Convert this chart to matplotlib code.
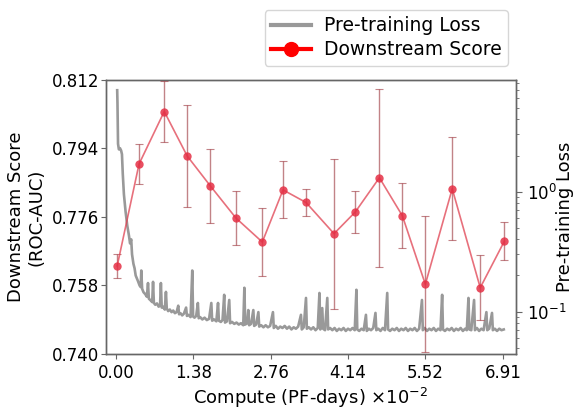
import matplotlib
matplotlib.use("Agg")
import matplotlib.pyplot as plt
from matplotlib.lines import Line2D
from matplotlib.ticker import LogLocator

# ---- Downstream score data ----
score_compute = [0.02, 0.41, 0.86, 1.27, 1.68, 2.14, 2.61, 2.98, 3.39, 3.89,
                 4.27, 4.70, 5.11, 5.52, 6.00, 6.50, 6.93]
score_values = [0.7631, 0.7899, 0.8037, 0.7920, 0.7842, 0.7757, 0.7694, 0.7831,
                0.7798, 0.7716, 0.7773, 0.7863, 0.7763, 0.7583, 0.7834, 0.7574, 0.7696]
score_errors = [0.0032, 0.0053, 0.0079, 0.0134, 0.0097, 0.0070, 0.0089, 0.0075,
                0.0035, 0.0197, 0.0055, 0.0234, 0.0085, 0.0179, 0.0135, 0.0085, 0.0050]

# ---- Pre-training loss curve ----
loss_compute = [
    0.02, 0.025, 0.035, 0.05, 0.07, 0.09, 0.105, 0.12, 0.14, 0.17, 0.20, 0.23, 0.25, 0.27, 0.285,
    0.31, 0.33, 0.35, 0.37, 0.39, 0.42, 0.44, 0.45, 0.465, 0.49, 0.52, 0.55, 0.57, 0.585,
    0.61, 0.645, 0.66, 0.675, 0.70, 0.73, 0.76, 0.785, 0.80, 0.815, 0.84, 0.87, 0.89, 0.905,
    0.93, 0.96, 0.99, 1.02, 1.05, 1.08, 1.11, 1.125, 1.15, 1.18, 1.21, 1.25, 1.265, 1.29,
    1.33, 1.36, 1.375, 1.40, 1.43, 1.46, 1.475, 1.50, 1.54, 1.58, 1.62, 1.66, 1.70, 1.715,
    1.75, 1.79, 1.82, 1.835, 1.87, 1.90, 1.93, 1.945, 1.98, 2.02, 2.035, 2.07, 2.11, 2.15,
    2.19, 2.23, 2.27, 2.29, 2.305, 2.34, 2.36, 2.375, 2.41, 2.45, 2.465, 2.50, 2.54, 2.555,
    2.59, 2.63, 2.67, 2.71, 2.75, 2.80, 2.815, 2.85, 2.89, 2.93, 2.97, 3.01, 3.05, 3.09,
    3.13, 3.17, 3.21, 3.25, 3.30, 3.315, 3.35, 3.39, 3.405, 3.44, 3.48, 3.52, 3.56, 3.60,
    3.63, 3.645, 3.68, 3.695, 3.73, 3.77, 3.785, 3.82, 3.86, 3.90, 3.94, 3.98, 4.02, 4.06,
    4.10, 4.14, 4.18, 4.22, 4.26, 4.29, 4.305, 4.34, 4.38, 4.42, 4.46, 4.475, 4.51, 4.55,
    4.59, 4.63, 4.645, 4.68, 4.72, 4.76, 4.80, 4.84, 4.855, 4.89, 4.93, 4.97, 5.01, 5.05,
    5.09, 5.13, 5.17, 5.21, 5.25, 5.29, 5.33, 5.37, 5.41, 5.46, 5.475, 5.51, 5.55, 5.59,
    5.63, 5.67, 5.71, 5.75, 5.79, 5.82, 5.835, 5.87, 5.91, 5.95, 5.99, 6.03, 6.07, 6.11,
    6.15, 6.19, 6.23, 6.26, 6.29, 6.305, 6.34, 6.39, 6.405, 6.44, 6.48, 6.52, 6.56, 6.61,
    6.625, 6.66, 6.71, 6.725, 6.76, 6.80, 6.84, 6.88, 6.92]
loss_values = [
    7.0, 5.5, 2.5, 2.25, 2.3, 2.2, 2.05, 1.4, 0.95, 0.68, 0.52, 0.43, 0.37, 0.40, 0.30,
    0.25, 0.23, 0.20, 0.19, 0.18, 0.165, 0.16, 0.22, 0.155, 0.145, 0.14, 0.133, 0.173, 0.128,
    0.125, 0.12, 0.177, 0.118, 0.114, 0.117, 0.11, 0.112, 0.173, 0.108, 0.11, 0.104, 0.146, 0.106,
    0.101, 0.104, 0.099, 0.102, 0.097, 0.099, 0.112, 0.095, 0.097, 0.093, 0.096, 0.108, 0.092, 0.094,
    0.09, 0.22, 0.091, 0.089, 0.092, 0.118, 0.088, 0.09, 0.086, 0.089, 0.085, 0.087, 0.118, 0.084,
    0.086, 0.083, 0.118, 0.084, 0.082, 0.085, 0.138, 0.081, 0.083, 0.125, 0.08, 0.082, 0.079, 0.081,
    0.078, 0.08, 0.077, 0.158, 0.078, 0.08, 0.103, 0.077, 0.079, 0.103, 0.076, 0.078, 0.099, 0.075,
    0.077, 0.074, 0.077, 0.074, 0.076, 0.099, 0.073, 0.076, 0.072, 0.075, 0.073, 0.076, 0.072, 0.075,
    0.071, 0.074, 0.072, 0.075, 0.094, 0.071, 0.074, 0.130, 0.072, 0.074, 0.071, 0.074, 0.07, 0.073,
    0.143, 0.071, 0.107, 0.072, 0.07, 0.130, 0.071, 0.073, 0.07, 0.073, 0.069, 0.072, 0.07, 0.073,
    0.069, 0.072, 0.07, 0.073, 0.07, 0.152, 0.071, 0.069, 0.072, 0.07, 0.094, 0.069, 0.072, 0.07,
    0.073, 0.0975, 0.07, 0.072, 0.069, 0.073, 0.07, 0.143, 0.071, 0.069, 0.072, 0.07, 0.073, 0.069,
    0.072, 0.07, 0.073, 0.069, 0.072, 0.07, 0.073, 0.069, 0.072, 0.125, 0.07, 0.073, 0.069, 0.072,
    0.07, 0.073, 0.069, 0.072, 0.07, 0.138, 0.071, 0.069, 0.072, 0.07, 0.073, 0.069, 0.072, 0.07,
    0.073, 0.069, 0.072, 0.07, 0.130, 0.071, 0.07, 0.125, 0.07, 0.073, 0.069, 0.072, 0.07, 0.099,
    0.07, 0.072, 0.0975, 0.07, 0.072, 0.069, 0.072, 0.07, 0.071]

x_ticks = [0.00, 1.38, 2.76, 4.14, 5.52, 6.91]
x_tick_labels = ["0.00", "1.38", "2.76", "4.14", "5.52", "6.91"]
y_ticks = [0.740, 0.758, 0.776, 0.794, 0.812]
y_tick_labels = ["0.740", "0.758", "0.776", "0.794", "0.812"]

plt.rcParams['font.family'] = ['DejaVu Sans']
fig = plt.figure(figsize=(5.76, 4.12), dpi=100)
ax1 = fig.add_axes([0.184, 0.141, 0.712, 0.665])
ax2 = ax1.twinx()

spine_col = '#666666'

# loss on right axis
ax2.plot(loss_compute, loss_values, color='#999999', lw=1.9, zorder=2)
ax2.set_yscale('log')
ax2.set_ylim(0.0444, 8.53)
ax2.yaxis.set_major_locator(LogLocator(base=10, numticks=10))
ax2.yaxis.set_minor_locator(LogLocator(base=10, subs=range(2, 10), numticks=20))
ax2.set_ylabel("Pre-training Loss", fontsize=13)
ax2.yaxis.set_label_coords(1.098, 0.5)
ax2.tick_params(axis='y', which='major', labelsize=12, length=4, color=spine_col)
ax2.tick_params(axis='y', which='minor', length=2, color=spine_col)

# score on left axis, on top
ax1.set_zorder(ax2.get_zorder() + 1)
ax1.patch.set_visible(False)
ax1.errorbar(score_compute, score_values, yerr=score_errors, fmt='none',
             ecolor='#9a3038', elinewidth=1.0, capsize=3, capthick=0.8, alpha=0.6, zorder=3)
ax1.plot(score_compute, score_values, color='#e04050', lw=1.2, alpha=0.75, zorder=4)
ax1.plot(score_compute, score_values, 'o', color='#e53045', ms=6, alpha=0.85,
         markeredgewidth=0, zorder=5)

ax1.set_xlim(-0.18, 7.14)
ax1.set_ylim(0.740, 0.812)
ax1.set_xticks(x_ticks)
ax1.set_xticklabels(x_tick_labels)
ax1.set_yticks(y_ticks)
ax1.set_yticklabels(y_tick_labels)
ax1.tick_params(axis='both', labelsize=12, length=3.5, color=spine_col)
ax1.tick_params(axis='y', pad=1.5)
ax1.set_xlabel(r"Compute (PF-days) $\times10^{-2}$", fontsize=13, labelpad=3)
ax1.set_ylabel("Downstream Score\n(ROC-AUC)", fontsize=13, labelpad=4)

for ax in (ax1, ax2):
    for s in ax.spines.values():
        s.set_color(spine_col)
        s.set_linewidth(1.0)

handles = [Line2D([0], [0], color='#999999', lw=3),
           Line2D([0], [0], color='red', lw=3, marker='o', ms=10)]
fig.legend(handles, ["Pre-training Loss", "Downstream Score"], loc='upper right',
           bbox_to_anchor=(0.882, 0.976), borderaxespad=0, fontsize=13.5,
           frameon=True, edgecolor='#cccccc', fancybox=True, handlelength=2.1,
           handletextpad=0.7, labelspacing=0.25, borderpad=0.35)

fig.savefig("out.png", dpi=100)
